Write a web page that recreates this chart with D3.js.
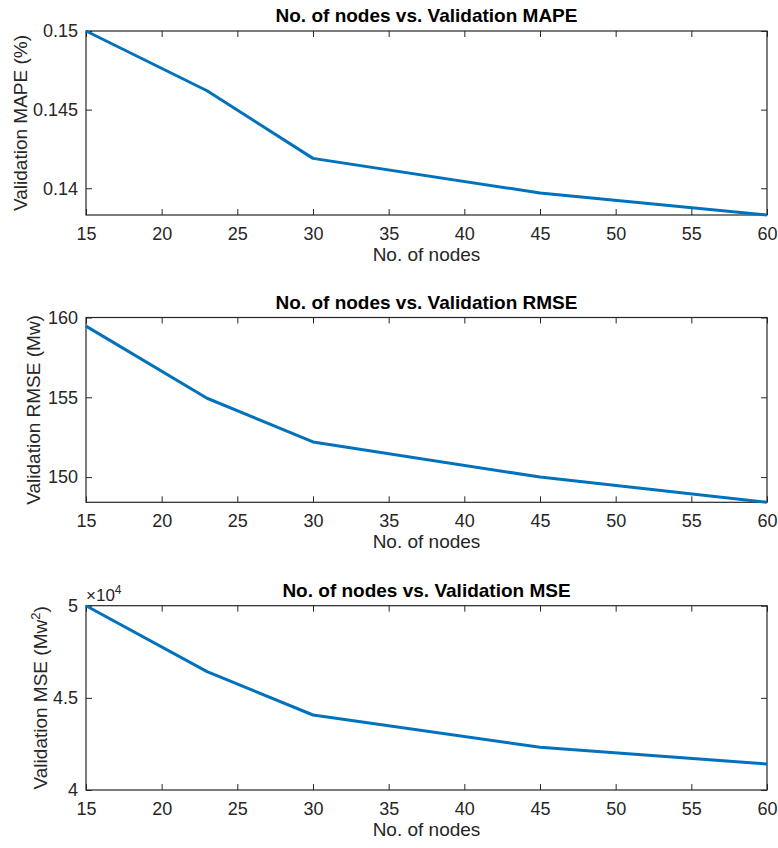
<!DOCTYPE html>
<html>
<head>
<meta charset="utf-8">
<script src="https://cdn.jsdelivr.net/npm/d3@7"></script>
<style>
  body { margin: 0; background: #fff; }
  text { font-family: "Liberation Sans", Arial, sans-serif; }
</style>
</head>
<body>
<div id="chart"></div>
<script>
// values
const nodes = [15, 23, 30, 45, 60];
const mape = [0.15, 0.1462, 0.1419, 0.1397, 0.1383];
const rmse = [159.46, 154.94, 152.2, 150.0, 148.42];
const mse = [50000, 46420, 44070, 42320, 41410];

const xTicks = [15, 20, 25, 30, 35, 40, 45, 50, 55, 60];
const mapeTicks = [0.14, 0.145, 0.15];
const rmseTicks = [150, 155, 160];
const mseTicks = [40000, 45000, 50000];

const W = 778, H = 848;
const svg = d3.select('#chart').append('svg').attr('width', W).attr('height', H);

const panels = [
  {
    top: 31, bottom: 215, values: mape, ticks: mapeTicks,
    domain: [d3.min(mape), 0.15], fmt: (d) => d3.format('')(d),
    title: 'No. of nodes vs. Validation MAPE', ylabel: 'Validation MAPE (%)', ylabelX: 27
  },
  {
    top: 317.5, bottom: 502.3, values: rmse, ticks: rmseTicks,
    domain: [d3.min(rmse), 160], fmt: (d) => d,
    title: 'No. of nodes vs. Validation RMSE', ylabel: 'Validation RMSE (Mw)', ylabelX: 40
  },
  {
    top: 605.7, bottom: 790, values: mse, ticks: mseTicks,
    domain: [40000, 50000], fmt: (d) => d / 1e4,
    title: 'No. of nodes vs. Validation MSE', ylabel: null, ylabelX: 47
  }
];

const left = 86, right = 767;
const x = d3.scaleLinear().domain([15, 60]).range([left, right]);
const axisColor = '#262626';

panels.forEach((p, i) => {
  const y = d3.scaleLinear().domain(p.domain).range([p.bottom, p.top]);
  const g = svg.append('g');

  // bottom + top ticks (inward)
  g.append('g')
    .attr('transform', `translate(0,${p.bottom})`)
    .call(d3.axisBottom(x).tickValues(xTicks).tickSizeInner(-6).tickSizeOuter(0).tickPadding(12))
    .call((a) => a.select('.domain').remove())
    .call((a) => a.selectAll('text').attr('font-size', 18).attr('fill', axisColor).attr('font-family', '"Liberation Sans", Arial, sans-serif'));
  g.append('g')
    .attr('transform', `translate(0,${p.top})`)
    .call(d3.axisTop(x).tickValues(xTicks).tickSizeInner(-6).tickSizeOuter(0).tickFormat(''))
    .call((a) => a.select('.domain').remove());

  // left + right ticks
  g.append('g')
    .attr('transform', `translate(${left},0)`)
    .call(d3.axisLeft(y).tickValues(p.ticks).tickSizeInner(-6).tickSizeOuter(0).tickPadding(8).tickFormat(p.fmt))
    .call((a) => a.select('.domain').remove())
    .call((a) => a.selectAll('text').attr('font-size', 18).attr('fill', axisColor).attr('font-family', '"Liberation Sans", Arial, sans-serif'));
  g.append('g')
    .attr('transform', `translate(${right},0)`)
    .call(d3.axisRight(y).tickValues(p.ticks).tickSizeInner(-6).tickSizeOuter(0).tickFormat(''))
    .call((a) => a.select('.domain').remove());

  g.selectAll('.tick line').attr('stroke', axisColor);

  // box
  g.append('rect')
    .attr('x', left).attr('y', p.top)
    .attr('width', right - left).attr('height', p.bottom - p.top)
    .attr('fill', 'none').attr('stroke', axisColor).attr('stroke-width', 1.2);

  // data line
  const line = d3.line().x((d, j) => x(nodes[j])).y((d) => y(d));
  g.append('path')
    .datum(p.values)
    .attr('d', line)
    .attr('fill', 'none')
    .attr('stroke', '#0072BD')
    .attr('stroke-width', 3)
    .attr('stroke-linejoin', 'round');

  // title
  g.append('text')
    .attr('x', (left + right) / 2).attr('y', p.top - 9)
    .attr('text-anchor', 'middle')
    .attr('font-size', 19).attr('font-weight', 'bold').attr('fill', '#000')
    .text(p.title);

  // x label
  g.append('text')
    .attr('x', (left + right) / 2).attr('y', p.bottom + 46)
    .attr('text-anchor', 'middle')
    .attr('font-size', 19).attr('fill', axisColor)
    .text('No. of nodes');

  // y label
  const yl = g.append('text')
    .attr('transform', `translate(${p.ylabelX},${(p.top + p.bottom) / 2}) rotate(-90)`)
    .attr('text-anchor', 'middle')
    .attr('font-size', 19).attr('fill', axisColor);
  if (p.ylabel) {
    yl.text(p.ylabel);
  } else {
    yl.append('tspan').text('Validation MSE (Mw');
    yl.append('tspan').attr('baseline-shift', 'super').attr('font-size', 13).text('2');
    yl.append('tspan').text(')');
  }

  // exponent label
  if (i === 2) {
    const ex = g.append('text')
      .attr('x', left).attr('y', p.top - 5)
      .attr('font-size', 17).attr('fill', axisColor);
    ex.append('tspan').text('\u00d710');
    ex.append('tspan').attr('baseline-shift', 'super').attr('font-size', 12).text('4');
  }
});
</script>
</body>
</html>
